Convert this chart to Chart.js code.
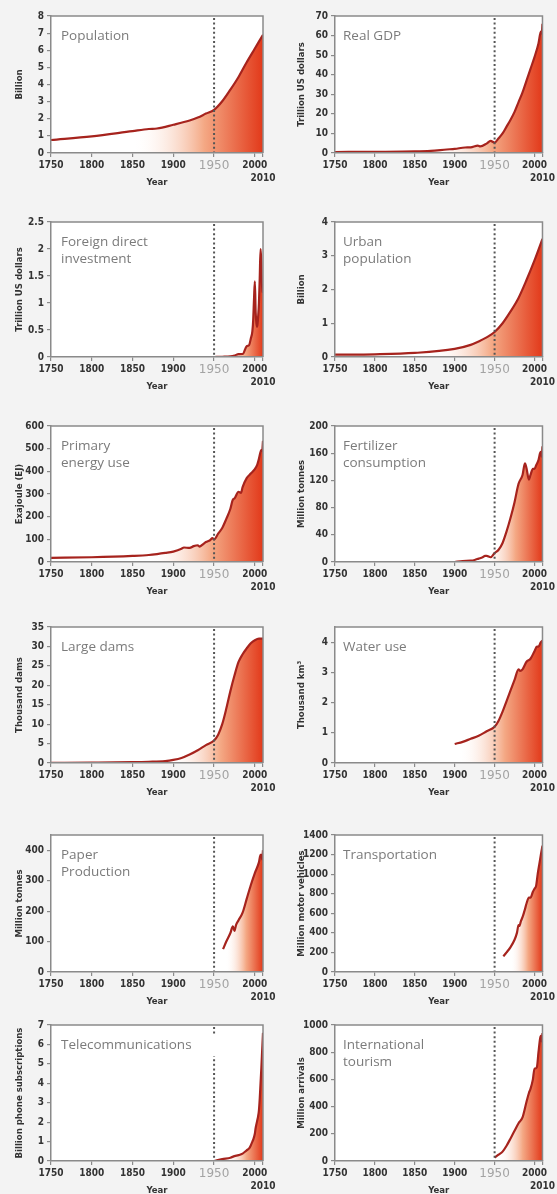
<!DOCTYPE html>
<html>
<head>
<meta charset="utf-8">
<script src="https://cdn.jsdelivr.net/npm/chart.js@4.4.1/dist/chart.umd.min.js"></script>
<style>
  html, body { margin: 0; padding: 0; background: #f3f3f3; }
  body { width: 557px; height: 1194px; position: relative; overflow: hidden; }
  canvas { position: absolute; }
</style>
</head>
<body>
<script>
// shared x axis
const xTickYears = [1750, 1800, 1850, 1900, 1950, 2000];
const markYear = 1950;
const endYear = 2010;

// series
const popYears = [1750, 1800, 1850, 1870, 1880, 1900, 1920, 1930, 1940, 1950, 1960, 1970, 1980, 1990, 2000, 2010];
const popValues = [0.76, 0.97, 1.28, 1.4, 1.43, 1.65, 1.9, 2.07, 2.3, 2.52, 3.02, 3.7, 4.44, 5.3, 6.1, 6.9];

const gdpYears = [1750, 1800, 1850, 1870, 1890, 1900, 1913, 1920, 1929, 1932, 1940, 1945, 1950, 1955, 1960, 1965, 1970, 1975, 1980, 1985, 1990, 1995, 2000, 2005, 2008, 2009, 2010];
const gdpValues = [0.5, 0.6, 0.8, 1.1, 1.8, 2.1, 2.8, 2.9, 3.8, 3.4, 4.8, 6.2, 5.3, 7.5, 10, 13.5, 17, 21, 26, 31, 37, 43, 49, 56, 62, 61, 66];

const fdiYears = [1950, 1960, 1970, 1975, 1980, 1985, 1990, 1993, 1995, 1997, 1998, 1999, 2000, 2001, 2002, 2003, 2004, 2005, 2006, 2007, 2008, 2009, 2010];
const fdiValues = [0, 0.005, 0.013, 0.027, 0.054, 0.056, 0.2, 0.22, 0.34, 0.48, 0.69, 1.08, 1.4, 0.83, 0.62, 0.56, 0.74, 0.99, 1.46, 2.0, 1.77, 1.2, 1.28];

const urbanYears = [1750, 1800, 1850, 1900, 1920, 1930, 1940, 1950, 1960, 1970, 1980, 1990, 2000, 2010];
const urbanValues = [0.07, 0.08, 0.12, 0.24, 0.36, 0.46, 0.58, 0.74, 1.0, 1.35, 1.75, 2.28, 2.86, 3.5];

const energyYears = [1750, 1800, 1850, 1870, 1880, 1890, 1900, 1910, 1913, 1920, 1925, 1930, 1932, 1937, 1940, 1945, 1948, 1950, 1955, 1960, 1965, 1970, 1973, 1975, 1980, 1983, 1985, 1990, 1995, 2000, 2003, 2005, 2008, 2009, 2010];
const energyValues = [18, 21, 27, 31, 35, 40, 46, 58, 64, 62, 70, 74, 68, 80, 88, 96, 105, 100, 125, 150, 190, 235, 275, 280, 310, 305, 330, 370, 390, 410, 430, 455, 495, 490, 535];

const fertYears = [1900, 1910, 1920, 1925, 1930, 1935, 1938, 1940, 1945, 1950, 1955, 1960, 1965, 1970, 1975, 1980, 1985, 1988, 1990, 1993, 1995, 1998, 2000, 2002, 2005, 2007, 2008, 2009, 2010];
const fertValues = [0, 1.5, 2, 3, 5, 7, 9, 9, 7, 13, 18, 28, 45, 65, 88, 115, 128, 145, 138, 121, 128, 137, 137, 142, 150, 160, 162, 155, 170];

const damsYears = [1750, 1800, 1850, 1870, 1890, 1900, 1910, 1920, 1930, 1940, 1950, 1955, 1960, 1965, 1970, 1975, 1980, 1985, 1990, 1995, 2000, 2005, 2010];
const damsValues = [0.05, 0.1, 0.2, 0.3, 0.5, 0.8, 1.3, 2.2, 3.3, 4.6, 5.8, 7.3, 10, 14, 18.5, 22.5, 26, 28, 29.5, 30.8, 31.6, 32, 32];

const waterYears = [1900, 1910, 1920, 1930, 1940, 1950, 1955, 1960, 1965, 1970, 1975, 1980, 1982, 1985, 1990, 1995, 2000, 2003, 2005, 2008, 2010];
const waterValues = [0.63, 0.7, 0.8, 0.9, 1.05, 1.2, 1.4, 1.7, 2.05, 2.4, 2.75, 3.1, 3.05, 3.1, 3.35, 3.45, 3.7, 3.85, 3.85, 4.0, 4.05];

const paperYears = [1961, 1965, 1970, 1973, 1975, 1977, 1980, 1985, 1990, 1995, 2000, 2005, 2007, 2008, 2009, 2010];
const paperValues = [75, 100, 128, 150, 135, 155, 170, 195, 240, 285, 325, 360, 385, 385, 370, 400];

const transYears = [1961, 1965, 1970, 1975, 1978, 1980, 1981, 1983, 1985, 1988, 1990, 1993, 1995, 1998, 2000, 2002, 2004, 2006, 2008, 2010];
const transValues = [160, 200, 255, 330, 400, 480, 470, 520, 560, 640, 700, 760, 760, 820, 850, 880, 1000, 1100, 1200, 1290];

const teleYears = [1950, 1960, 1970, 1975, 1980, 1985, 1990, 1993, 1995, 1997, 1998, 2000, 2001, 2002, 2003, 2004, 2005, 2006, 2007, 2008, 2009, 2010];
const teleValues = [0, 0.1, 0.17, 0.25, 0.3, 0.38, 0.55, 0.65, 0.8, 1.0, 1.1, 1.4, 1.7, 1.9, 2.1, 2.3, 2.6, 3.2, 4.0, 4.8, 5.7, 6.6];

const tourYears = [1950, 1955, 1960, 1965, 1970, 1975, 1980, 1985, 1990, 1993, 1995, 1998, 2000, 2001, 2003, 2005, 2007, 2008, 2009, 2010];
const tourValues = [25, 46, 69, 112, 166, 222, 278, 320, 435, 500, 530, 600, 680, 680, 690, 800, 900, 920, 880, 940];

const panels = [
  { title: ["Population"], unit: "Billion", years: popYears, values: popValues, max: 8, step: 1, fadeFrom: 1850 },
  { title: ["Real GDP"], unit: "Trillion US dollars", years: gdpYears, values: gdpValues, max: 70, step: 10, fadeFrom: 1870 },
  { title: ["Foreign direct", "investment"], unit: "Trillion US dollars", years: fdiYears, values: fdiValues, max: 2.5, step: 0.5, fadeFrom: 1960 },
  { title: ["Urban", "population"], unit: "Billion", years: urbanYears, values: urbanValues, max: 4, step: 1, fadeFrom: 1870 },
  { title: ["Primary", "energy use"], unit: "Exajoule (EJ)", years: energyYears, values: energyValues, max: 600, step: 100, fadeFrom: 1870 },
  { title: ["Fertilizer", "consumption"], unit: "Million tonnes", years: fertYears, values: fertValues, max: 200, step: 40, fadeFrom: 1935 },
  { title: ["Large dams"], unit: "Thousand dams", years: damsYears, values: damsValues, max: 35, step: 5, fadeFrom: 1895 },
  { title: ["Water use"], unit: "Thousand km³", years: waterYears, values: waterValues, max: 4.5, step: 1, fadeFrom: 1905 },
  { title: ["Paper", "Production"], unit: "Million tonnes", years: paperYears, values: paperValues, max: 450, step: 100, fadeFrom: 1964 },
  { title: ["Transportation"], unit: "Million motor vehicles", years: transYears, values: transValues, max: 1400, step: 200, fadeFrom: 1970 },
  { title: ["Telecommunications"], unit: "Billion phone subscriptions", years: teleYears, values: teleValues, max: 7, step: 1, fadeFrom: 1965 },
  { title: ["International", "tourism"], unit: "Million arrivals", years: tourYears, values: tourValues, max: 1000, step: 200, fadeFrom: 1955 }
];

// layout (page pixels)
const colX = [0, 278];
const colW = [278, 279];
const plotLeft = [51, 335];
const plotRight = [263, 546];
const rowTop = [16, 222, 426, 627, 835, 1025];
const rowBottom = [153, 357, 562, 763, 972, 1161];
const padTop = 16;
const axisH = 42;
const titleInset = [10, 8];

const narrow = "'Liberation Sans Narrow', 'DejaVu Sans Condensed', 'Arial Narrow', sans-serif";
const inkColor = '#333333';
const axisColor = '#8a8a8a';

const panelDecor = {
  id: 'panelDecor',
  beforeDraw(chart) {
    const { ctx, chartArea: a } = chart;
    ctx.save();
    ctx.fillStyle = '#ffffff';
    ctx.fillRect(a.left, a.top, a.right - a.left, a.bottom - a.top);
    ctx.restore();
  },
  afterDatasetsDraw(chart, args, opts) {
    const { ctx, chartArea: a, scales } = chart;
    const x = scales.x.getPixelForValue(markYear);
    ctx.save();
    ctx.strokeStyle = '#555555';
    ctx.lineWidth = 2;
    ctx.setLineDash([2, 2.6]);
    ctx.beginPath();
    ctx.moveTo(x, a.top + 2);
    ctx.lineTo(x, a.bottom);
    ctx.stroke();
    ctx.setLineDash([]);

    ctx.font = '13.5px "Open Sans", sans-serif';
    ctx.textBaseline = 'alphabetic';
    opts.lines.forEach((line, k) => {
      const tx = a.left + opts.inset;
      const ty = a.top + 24 + k * 17;
      const w = ctx.measureText(line).width;
      ctx.fillStyle = '#ffffff';
      ctx.fillRect(tx - 3, ty - 13, w + 32, 20);
      ctx.fillStyle = '#7b7b7b';
      ctx.fillText(line, tx, ty);
    });
    ctx.restore();
  },
  afterDraw(chart) {
    const { ctx, chartArea: a } = chart;
    ctx.save();
    ctx.strokeStyle = axisColor;
    ctx.lineWidth = 1.5;
    ctx.beginPath();
    ctx.moveTo(a.left, a.top);
    ctx.lineTo(a.right, a.top);
    ctx.lineTo(a.right, a.bottom);
    ctx.stroke();
    ctx.restore();
  }
};

function fillGradient(p) {
  return (context) => {
    const chart = context.chart;
    const { ctx, chartArea, scales } = chart;
    if (!chartArea) return null;
    const x0 = scales.x.getPixelForValue(p.fadeFrom);
    const g = ctx.createLinearGradient(x0, 0, chartArea.right, 0);
    g.addColorStop(0, 'rgba(255,255,255,0)');
    g.addColorStop(0.55, 'rgba(244,168,132,1)');
    g.addColorStop(1, '#e2391a');
    return g;
  };
}

panels.forEach((p, i) => {
  const col = i % 2;
  const row = Math.floor(i / 2);
  const w = colW[col];
  const h = rowBottom[row] - rowTop[row] + padTop + axisH;

  const canvas = document.createElement('canvas');
  canvas.width = w;
  canvas.height = h;
  canvas.style.left = colX[col] + 'px';
  canvas.style.top = (rowTop[row] - padTop) + 'px';
  canvas.style.width = w + 'px';
  canvas.style.height = h + 'px';
  document.body.appendChild(canvas);

  const points = p.years.map((yr, k) => ({ x: yr, y: p.values[k] }));

  new Chart(canvas, {
    type: 'line',
    data: {
      datasets: [{
        data: points,
        borderColor: '#a6231d',
        borderWidth: 2.2,
        backgroundColor: fillGradient(p),
        fill: 'origin',
        pointRadius: 0,
        cubicInterpolationMode: 'monotone'
      }]
    },
    options: {
      responsive: false,
      animation: false,
      devicePixelRatio: 1,
      layout: { padding: { top: padTop, right: colX[col] + w - plotRight[col], left: 0, bottom: 0 } },
      plugins: {
        legend: { display: false },
        tooltip: { enabled: false },
        panelDecor: { lines: p.title, inset: titleInset[col] }
      },
      scales: {
        x: {
          type: 'linear',
          min: 1750,
          max: endYear,
          afterFit: s => { s.height = axisH; },
          afterBuildTicks: s => { s.ticks = xTickYears.concat([endYear]).map(v => ({ value: v })); },
          grid: { drawOnChartArea: false, drawTicks: true, tickLength: 4, color: axisColor, lineWidth: 1.2 },
          border: { display: true, color: axisColor, width: 1.5, z: 1 },
          ticks: {
            autoSkip: false,
            maxRotation: 0,
            padding: 2,
            callback: v => v === endYear ? ['', String(endYear)] : String(v),
            color: c => c.tick && c.tick.value === markYear ? '#a3a3a3' : inkColor,
            font: c => {
              const v = c.tick ? c.tick.value : 0;
              if (v === markYear) return { family: "'DejaVu Sans', sans-serif", size: 12, weight: 'normal', lineHeight: 1.2 };
              if (v === endYear) return { family: narrow, size: 10, weight: 'bold', lineHeight: 1.3 };
              return { family: narrow, size: 10, weight: 'bold', lineHeight: 1.2 };
            }
          },
          title: {
            display: true,
            text: 'Year',
            color: inkColor,
            font: { family: narrow, size: 9.5, weight: 'bold' },
            padding: { top: 0, bottom: 6.6 }
          }
        },
        y: {
          min: 0,
          max: p.max,
          afterFit: s => { s.width = plotLeft[col] - colX[col]; },
          grid: { drawOnChartArea: false, drawTicks: true, tickLength: 4, color: axisColor, lineWidth: 1.2 },
          border: { display: true, color: axisColor, width: 1.5, z: 1 },
          ticks: {
            stepSize: p.step,
            includeBounds: false,
            padding: 3,
            color: inkColor,
            font: { family: narrow, size: 10, weight: 'bold' },
            callback: v => String(v)
          },
          title: {
            display: true,
            text: p.unit,
            color: inkColor,
            font: { family: narrow, size: 9.5, weight: 'bold' },
            padding: { top: col === 0 ? 14.3 : 18.3, bottom: 0 }
          }
        }
      }
    },
    plugins: [panelDecor]
  });
});
</script>
</body>
</html>
